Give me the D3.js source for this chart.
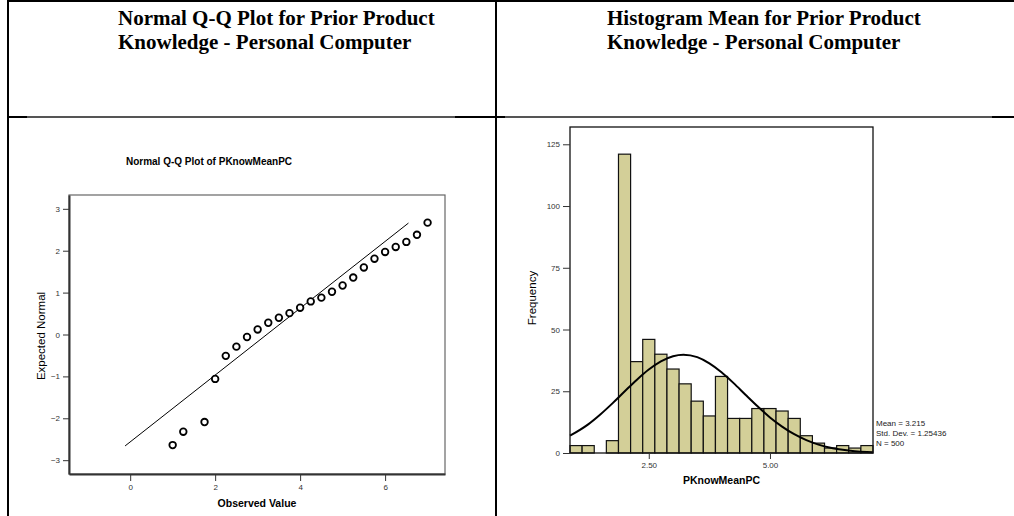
<!DOCTYPE html>
<html>
<head>
<meta charset="utf-8">
<script src="https://cdn.jsdelivr.net/npm/d3@7"></script>
<style>
  html, body { margin: 0; padding: 0; background: #fff; }
  svg { display: block; }
  .tick text { font-family: "Liberation Sans", Arial, sans-serif; font-size: 8px; fill: #333; }
  .tick line { stroke: #333; }
</style>
</head>
<body>
<script>
// Q-Q plot: observed values and their expected normal scores
const qqObserved = [1.0, 1.25, 1.75, 2.0, 2.25, 2.5, 2.75, 3.0, 3.25, 3.5, 3.75, 4.0,
  4.25, 4.5, 4.75, 5.0, 5.25, 5.5, 5.75, 6.0, 6.25, 6.5, 6.75, 7.0]
const qqExpected = [-2.64, -2.32, -2.09, -1.06, -0.51, -0.29, -0.06, 0.12, 0.28, 0.40, 0.51, 0.64,
  0.79, 0.88, 1.02, 1.17, 1.36, 1.60, 1.81, 1.97, 2.09, 2.21, 2.38, 2.67]
const qqLineX = [-0.12, 6.55]
const qqLineY = [-2.66, 2.66]
const qqXTicks = [0, 2, 4, 6]
const qqYTicks = [-3, -2, -1, 0, 1, 2, 3]

// histogram: bin centres (width 0.25) and counts
const binCenters = [1.0, 1.25, 1.5, 1.75, 2.0, 2.25, 2.5, 2.75, 3.0, 3.25, 3.5, 3.75, 4.0,
  4.25, 4.5, 4.75, 5.0, 5.25, 5.5, 5.75, 6.0, 6.25, 6.5, 6.75, 7.0]
const binCounts = [3, 3, 0, 5, 121, 37, 46, 40, 34, 28, 21, 15, 31,
  14, 14, 18, 18, 17, 14, 7, 4, 2, 3, 2, 3]
const binWidth = 0.25
// normal curve
const curveX = [0.875, 1.25, 1.5, 1.75, 2.0, 2.25, 2.5, 2.75, 3.0, 3.215, 3.5, 3.75, 4.0,
  4.25, 4.5, 4.75, 5.0, 5.25, 5.5, 5.75, 6.0, 6.25, 6.5, 6.75, 7.0, 7.125]
const curveY = [7.0, 11.6, 15.6, 20.1, 24.9, 29.6, 33.8, 37.1, 39.2, 39.8, 38.8, 36.3, 32.7,
  28.3, 23.5, 18.8, 14.4, 10.7, 7.6, 5.2, 3.4, 2.1, 1.3, 0.75, 0.42, 0.31]
const histXTicks = [2.5, 5.0]
const histYTicks = [0, 25, 50, 75, 100, 125]
const statLines = ['Mean = 3.215', 'Std. Dev. = 1.25436', 'N = 500']

const W = 1014, H = 516
const sans = '"Liberation Sans", Arial, sans-serif'
const narrow = '"Liberation Sans Narrow", "Arial Narrow", "Liberation Sans", sans-serif'
const serif = '"Liberation Serif", "Times New Roman", serif'

const svg = d3.select('body').append('svg')
  .attr('width', W)
  .attr('height', H)

// ---- table frame ----
const table = svg.append('g').attr('stroke', '#000').attr('fill', 'none')
table.append('line').attr('x1', 8).attr('y1', 1).attr('x2', W).attr('y2', 1).attr('stroke-width', 2)
table.append('line').attr('x1', 8).attr('y1', 0).attr('x2', 8).attr('y2', H).attr('stroke-width', 2)
table.append('line').attr('x1', 496).attr('y1', 0).attr('x2', 496).attr('y2', H).attr('stroke-width', 2)
table.append('line').attr('x1', 8).attr('y1', 117).attr('x2', W).attr('y2', 117).attr('stroke-width', 2)
// lighter inner parts of the row rule
table.append('line').attr('x1', 27).attr('y1', 117).attr('x2', 455).attr('y2', 117)
  .attr('stroke', '#555').attr('stroke-width', 2)
table.append('line').attr('x1', 505).attr('y1', 117).attr('x2', 992).attr('y2', 117)
  .attr('stroke', '#555').attr('stroke-width', 2)

function cellTitle (x, lines) {
  lines.forEach((s, i) => {
    svg.append('text')
      .attr('x', x).attr('y', 25 + i * 23.5)
      .attr('font-family', serif)
      .attr('font-weight', 'bold')
      .attr('font-size', 21)
      .attr('fill', '#000')
      .text(s)
  })
}
cellTitle(118, ['Normal Q-Q Plot for Prior Product', 'Knowledge - Personal Computer'])
cellTitle(607, ['Histogram Mean for Prior Product', 'Knowledge - Personal Computer'])

// ---- Q-Q plot ----
const xQ = d3.scaleLinear().domain([-1.44, 7.41]).range([69, 445])
const yQ = d3.scaleLinear().domain([-3.33, 3.33]).range([474, 195])

const qq = svg.append('g')

qq.append('text')
  .attr('x', 209).attr('y', 165)
  .attr('text-anchor', 'middle')
  .attr('font-family', sans).attr('font-weight', 'bold').attr('font-size', 10)
  .text('Normal Q-Q Plot of PKnowMeanPC')

qq.append('rect')
  .attr('x', xQ.range()[0]).attr('y', yQ.range()[1])
  .attr('width', xQ.range()[1] - xQ.range()[0])
  .attr('height', yQ.range()[0] - yQ.range()[1])
  .attr('fill', 'none').attr('stroke', '#666').attr('stroke-width', 1.2)

qq.append('g')
  .attr('transform', `translate(${xQ.range()[0]},0)`)
  .call(d3.axisLeft(yQ).tickValues(qqYTicks).tickSize(6).tickSizeOuter(0).tickPadding(3).tickFormat(d3.format('d')))
  .call(g => g.select('.domain').attr('stroke', '#333').attr('stroke-width', 2))

qq.append('g')
  .attr('transform', `translate(0,${yQ.range()[0]})`)
  .call(d3.axisBottom(xQ).tickValues(qqXTicks).tickSize(7).tickSizeOuter(0).tickPadding(3).tickFormat(d3.format('d')))
  .call(g => g.select('.domain').attr('stroke', '#333').attr('stroke-width', 2))

qq.append('line')
  .attr('x1', xQ(qqLineX[0])).attr('y1', yQ(qqLineY[0]))
  .attr('x2', xQ(qqLineX[1])).attr('y2', yQ(qqLineY[1]))
  .attr('stroke', '#000').attr('stroke-width', 1)

qq.append('g').selectAll('circle')
  .data(qqObserved)
  .join('circle')
  .attr('cx', d => xQ(d))
  .attr('cy', (d, i) => yQ(qqExpected[i]))
  .attr('r', 3.3)
  .attr('fill', '#fff')
  .attr('stroke', '#000')
  .attr('stroke-width', 1.8)

qq.append('text')
  .attr('x', (xQ.range()[0] + xQ.range()[1]) / 2).attr('y', 507)
  .attr('text-anchor', 'middle')
  .attr('font-family', sans).attr('font-weight', 'bold').attr('font-size', 10.5)
  .text('Observed Value')

qq.append('text')
  .attr('transform', 'translate(45,336) rotate(-90)')
  .attr('text-anchor', 'middle')
  .attr('font-family', narrow).attr('font-size', 11.5)
  .text('Expected Normal')

// ---- histogram ----
const xH = d3.scaleLinear().domain([0.875, 7.125]).range([570, 873])
const yH = d3.scaleLinear().domain([0, 132]).range([453, 127])

const hist = svg.append('g')

hist.append('g').selectAll('rect')
  .data(binCenters)
  .join('rect')
  .attr('x', d => xH(d - binWidth / 2))
  .attr('width', xH(binWidth) - xH(0))
  .attr('y', (d, i) => yH(binCounts[i]))
  .attr('height', (d, i) => yH(0) - yH(binCounts[i]))
  .attr('fill', (d, i) => binCounts[i] > 0 ? '#d3cf98' : 'none')
  .attr('stroke', (d, i) => binCounts[i] > 0 ? '#111' : 'none')
  .attr('stroke-width', 1.2)

hist.append('path')
  .datum(curveX.map((x, i) => [x, curveY[i]]))
  .attr('d', d3.line().x(d => xH(d[0])).y(d => yH(d[1])).curve(d3.curveMonotoneX))
  .attr('fill', 'none')
  .attr('stroke', '#000')
  .attr('stroke-width', 2)

hist.append('rect')
  .attr('x', xH.range()[0]).attr('y', yH.range()[1])
  .attr('width', xH.range()[1] - xH.range()[0])
  .attr('height', yH.range()[0] - yH.range()[1])
  .attr('fill', 'none').attr('stroke', '#111').attr('stroke-width', 1.3)

hist.append('g')
  .attr('transform', `translate(${xH.range()[0]},0)`)
  .call(d3.axisLeft(yH).tickValues(histYTicks).tickSize(7).tickSizeOuter(0).tickPadding(3).tickFormat(d3.format('d')))
  .call(g => g.select('.domain').remove())

hist.append('g')
  .attr('transform', `translate(0,${yH.range()[0]})`)
  .call(d3.axisBottom(xH).tickValues(histXTicks).tickSize(6).tickSizeOuter(0).tickPadding(3).tickFormat(d3.format('.2f')))
  .call(g => g.select('.domain').remove())

hist.append('text')
  .attr('x', (xH.range()[0] + xH.range()[1]) / 2).attr('y', 484)
  .attr('text-anchor', 'middle')
  .attr('font-family', sans).attr('font-weight', 'bold').attr('font-size', 10.5)
  .text('PKnowMeanPC')

hist.append('text')
  .attr('transform', 'translate(536,298) rotate(-90)')
  .attr('text-anchor', 'middle')
  .attr('font-family', narrow).attr('font-size', 11.5)
  .text('Frequency')

hist.append('g').selectAll('text')
  .data(statLines)
  .join('text')
  .attr('x', 876)
  .attr('y', (d, i) => 426 + i * 10)
  .attr('font-family', sans).attr('font-size', 8).attr('fill', '#222')
  .text(d => d)
</script>
</body>
</html>
